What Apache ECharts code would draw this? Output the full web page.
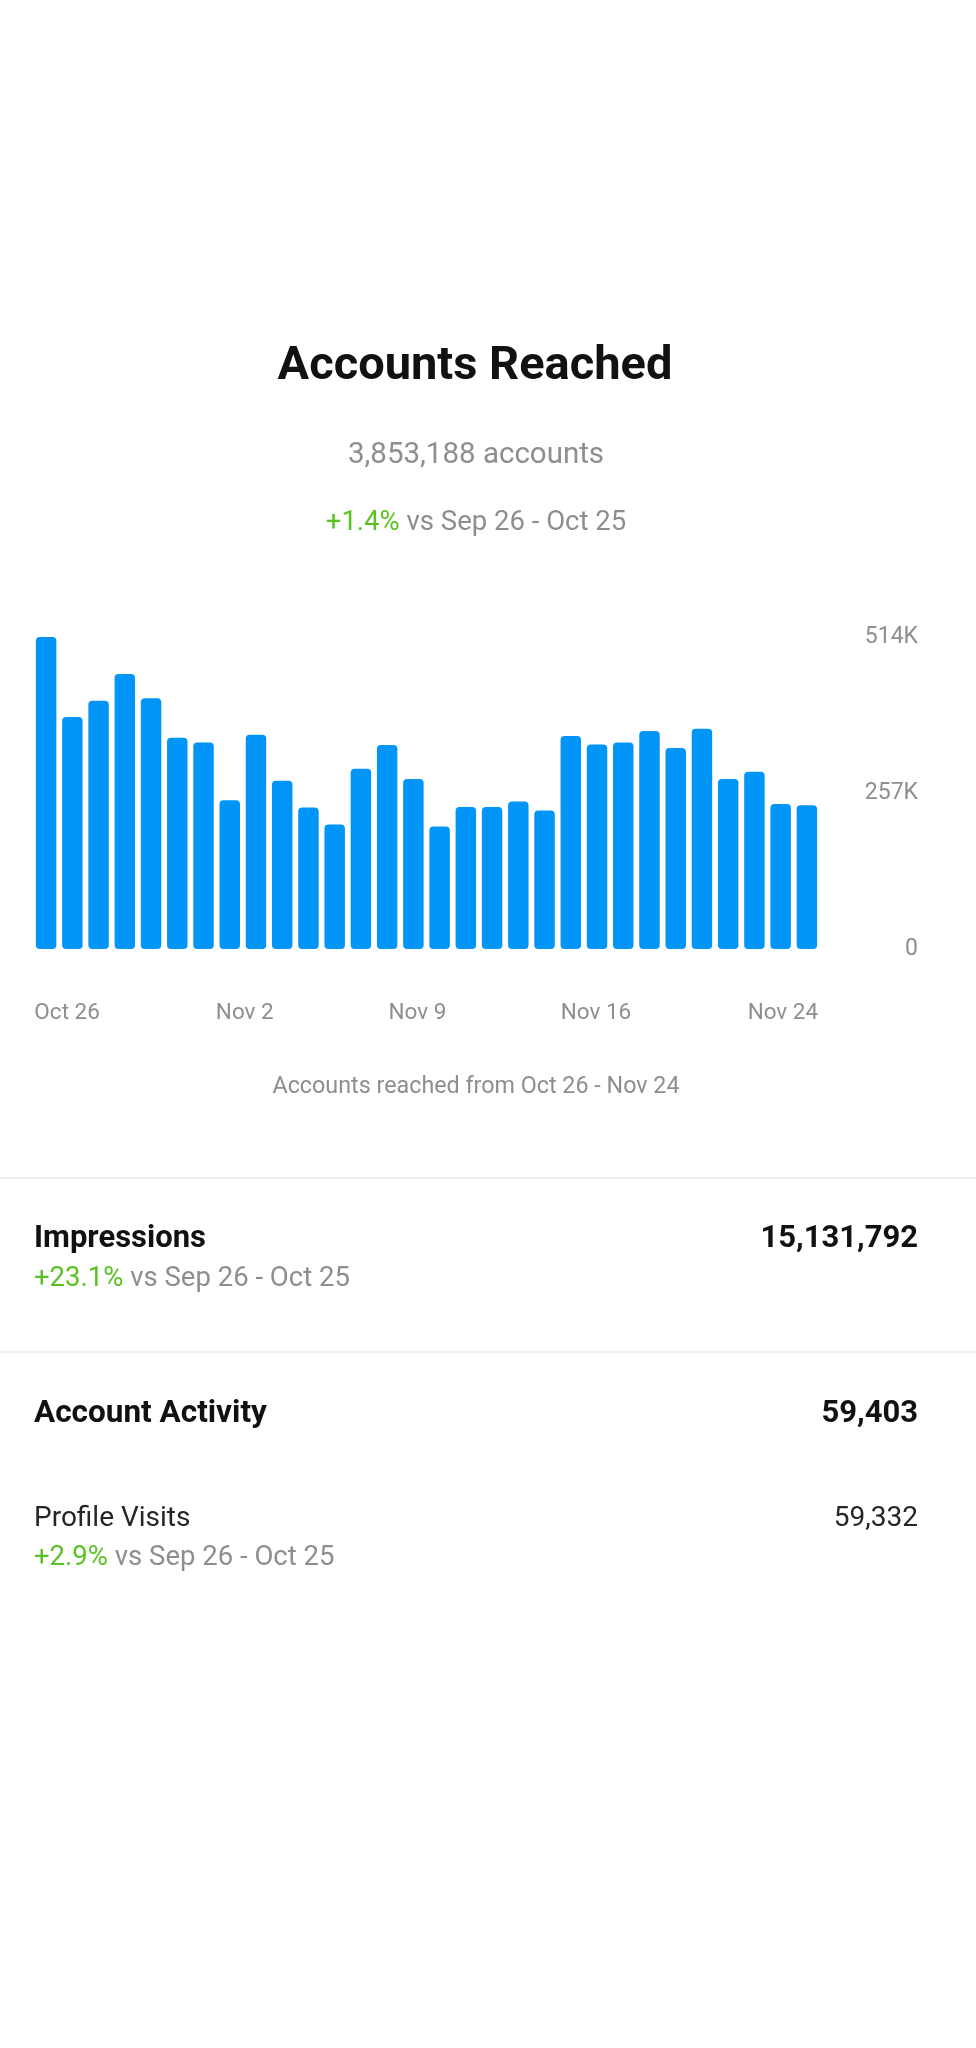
<!DOCTYPE html>
<html>
<head>
<meta charset="utf-8">
<title>Accounts Reached</title>
<script src="https://cdn.jsdelivr.net/npm/echarts@6/dist/echarts.min.js"></script>
<style>
  html, body { margin: 0; padding: 0; background: #fff; }
  #main { width: 976px; height: 2048px; }
</style>
</head>
<body>
<div id="main"></div>
<script>
// daily accounts reached, Oct 26 - Nov 24
var days = [
  'Oct 26', 'Oct 27', 'Oct 28', 'Oct 29', 'Oct 30', 'Oct 31',
  'Nov 1', 'Nov 2', 'Nov 3', 'Nov 4', 'Nov 5', 'Nov 6', 'Nov 7', 'Nov 8',
  'Nov 9', 'Nov 10', 'Nov 11', 'Nov 12', 'Nov 13', 'Nov 14', 'Nov 15',
  'Nov 16', 'Nov 17', 'Nov 18', 'Nov 19', 'Nov 20', 'Nov 21', 'Nov 22',
  'Nov 23', 'Nov 24'
];
var reached = [
  514000, 382000, 409000, 453000, 413000, 348000, 340000, 245000, 353000, 277000,
  233000, 205000, 297000, 336000, 280000, 202000, 234000, 234000, 243000, 228000,
  351000, 337000, 340000, 359000, 331000, 363000, 280000, 292000, 239000, 237000
];
var shownDays = [0, 7, 14, 21, 29];
var yTicks = [0, 257000, 514000];

var totalReached = '3,853,188';
var reachedChange = '+1.4%';
var impressions = '15,131,792';
var impressionsChange = '+23.1%';
var accountActivity = '59,403';
var profileVisits = '59,332';
var profileChange = '+2.9%';
var prevRange = 'Sep 26 - Oct 25';

var FONT = 'Roboto';
var GRAY = '#8e8e8e';
var GREEN = '#58c322';
var INK = '#111111';

// how far each shown date label sits from its bar centre (px)
var nudge = { 0: 21, 7: 15, 14: 4, 21: -1, 29: -24 };
var labelRich = {};
shownDays.forEach(function (i) {
  var d = nudge[i] || 0;
  labelRich['d' + i] = {
    fontFamily: FONT, fontSize: 22.5, color: GRAY,
    padding: d > 0 ? [0, 0, 0, 2 * d] : [0, -2 * d, 0, 0]
  };
});

function txt(text, x, y, align, size, weight, color) {
  return {
    text: text, left: x, top: y, padding: 0,
    textAlign: align, textVerticalAlign: 'middle',
    textStyle: {
      fontFamily: FONT, fontSize: size, fontWeight: weight, color: color,
      rich: { g: { fontFamily: FONT, fontSize: size, fontWeight: weight, color: GREEN } }
    }
  };
}

var chart = echarts.init(document.getElementById('main'), null, { renderer: 'canvas' });
var option = {
  backgroundColor: '#ffffff',
  animation: false,
  title: [
    txt('Accounts Reached', 475, 367, 'center', 47, 'bold', INK),
    txt(totalReached + ' accounts', 476, 456, 'center', 29.5, 'normal', GRAY),
    txt('{g|' + reachedChange + '} vs ' + prevRange, 476, 523, 'center', 27.5, 'normal', GRAY),
    txt('Accounts reached from ' + days[0] + ' - ' + days[days.length - 1], 476, 1087, 'center', 23.3, 'normal', GRAY),
    txt('Impressions', 34, 1239, 'left', 31, 'bold', INK),
    txt(impressions, 918, 1239, 'right', 31, 'bold', INK),
    txt('{g|' + impressionsChange + '} vs ' + prevRange, 34, 1279, 'left', 27.5, 'normal', GRAY),
    txt('Account Activity', 34, 1414, 'left', 31.5, 'bold', INK),
    txt(accountActivity, 918, 1414, 'right', 31, 'bold', INK),
    txt('Profile Visits', 34, 1519, 'left', 28, 'normal', '#262626'),
    txt(profileVisits, 918, 1519, 'right', 28, 'normal', '#262626'),
    txt('{g|' + profileChange + '} vs ' + prevRange, 34, 1558, 'left', 27.5, 'normal', GRAY)
  ],
  graphic: [
    { type: 'rect', shape: { x: 0, y: 1177, width: 976, height: 2 }, style: { fill: '#efefef' } },
    { type: 'rect', shape: { x: 0, y: 1351, width: 976, height: 2 }, style: { fill: '#efefef' } }
  ],
  grid: { left: 33, right: 156, top: 637, bottom: 1099, containLabel: false },
  xAxis: {
    type: 'category',
    data: days,
    axisLine: { show: false },
    axisTick: { show: false },
    axisLabel: {
      margin: 53,
      interval: function (index) { return shownDays.indexOf(index) >= 0; },
      formatter: function (value, index) { return '{d' + index + '|' + value + '}'; },
      rich: labelRich
    }
  },
  yAxis: {
    type: 'value',
    position: 'right',
    min: yTicks[0],
    max: yTicks[yTicks.length - 1],
    interval: yTicks[1] - yTicks[0],
    splitLine: { show: false },
    axisLine: { show: false },
    axisTick: { show: false },
    axisLabel: {
      align: 'right',
      margin: 98,
      fontFamily: FONT,
      fontSize: 23,
      color: GRAY,
      formatter: function (v) { return v === 0 ? '0' : (v / 1000) + 'K'; }
    }
  },
  series: [{
    type: 'bar',
    data: reached,
    barCategoryGap: '22%',
    itemStyle: { color: '#0095f6', borderRadius: 4 }
  }]
};
chart.setOption(option);
window.onresize = chart.resize;
</script>
</body>
</html>
